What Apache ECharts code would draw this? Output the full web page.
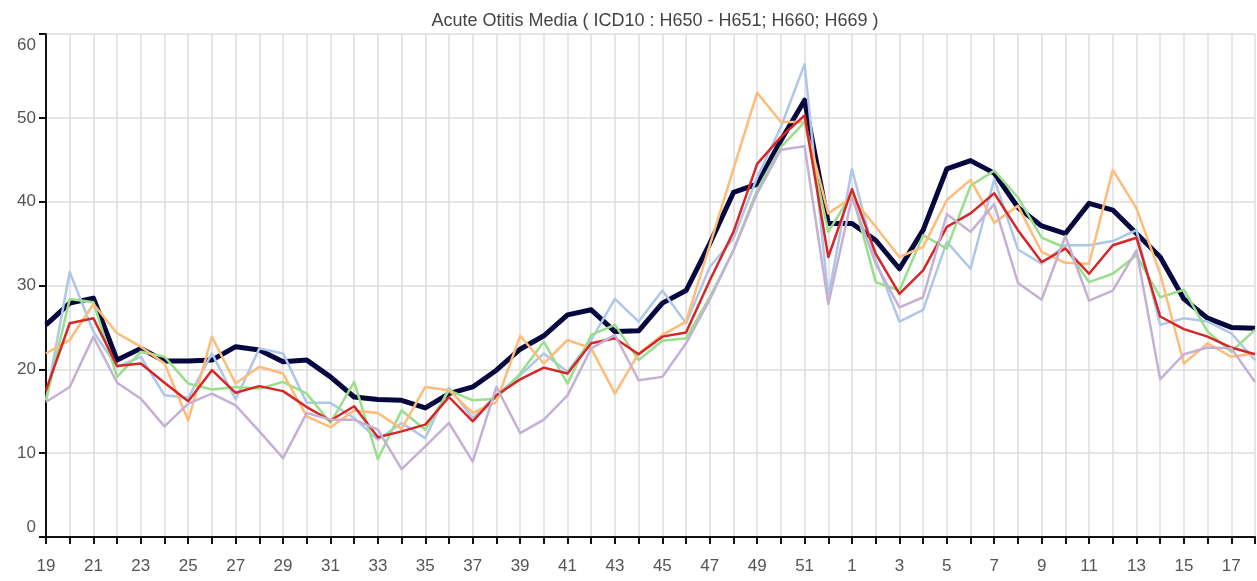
<!DOCTYPE html>
<html>
<head>
<meta charset="utf-8">
<title>Acute Otitis Media</title>
<script src="https://cdn.jsdelivr.net/npm/echarts@6/dist/echarts.min.js"></script>
<style>
  html, body { margin: 0; padding: 0; background: #fff; }
  #chart { width: 1257px; height: 581px; }
</style>
</head>
<body>
<div id="chart"></div>
<script>
// ISO weeks, week 19 of one year to week 18 of the next
var weeks = ["19","20","21","22","23","24","25","26","27","28","29","30","31","32","33","34","35","36","37","38","39","40","41","42","43","44","45","46","47","48","49","50","51","52",
	"1","2","3","4","5","6","7","8","9","10","11","12","13","14","15","16","17","18"];

var navyVals = [25.3, 27.9, 28.5, 21.1, 22.5, 21.0, 21.0, 21.1, 22.7, 22.3, 20.9, 21.1, 19.1, 16.7, 16.4, 16.3, 15.4, 17.1, 17.9, 19.9,
	22.4, 24.0, 26.5, 27.1, 24.5, 24.6, 27.9, 29.4, 35.0, 41.1, 42.1, 47.3, 52.1, 37.4,
	37.4, 35.4, 32.0, 36.6, 43.9, 44.9, 43.4, 39.3, 37.1, 36.2, 39.8, 39.0, 36.2, 33.4, 28.4, 26.1, 25.0, 24.9];
var blueVals = [16.3, 31.6, 24.5, 20.3, 21.5, 16.9, 16.6, 21.9, 16.4, 22.5, 21.9, 16.0, 16.0, 14.2, 11.6, 13.6, 11.8, 17.8, 14.2, 16.9,
	19.3, 21.9, 19.7, 23.5, 28.4, 25.7, 29.4, 25.5, 32.2, 35.6, 42.9, 48.9, 56.4, 28.6,
	43.9, 33.0, 25.7, 27.1, 35.2, 32.0, 42.7, 34.3, 32.6, 34.8, 34.8, 35.3, 36.6, 25.3, 26.1, 25.7, 24.3, 21.1];
var greenVals = [16.3, 28.4, 28.0, 19.1, 22.1, 21.5, 18.3, 17.6, 17.9, 17.7, 18.5, 17.1, 13.6, 18.5, 9.3, 15.1, 12.8, 17.5, 16.3, 16.5,
	19.5, 23.3, 18.3, 24.1, 25.3, 21.1, 23.4, 23.7, 28.6, 34.2, 41.4, 46.5, 49.5, 36.4,
	41.0, 30.4, 29.4, 36.0, 34.4, 41.9, 43.7, 40.5, 35.7, 34.5, 30.4, 31.4, 33.6, 28.6, 29.5, 24.5, 22.1, 24.7];
var orangeVals = [21.9, 23.5, 27.8, 24.3, 22.7, 20.7, 13.9, 23.9, 18.3, 20.3, 19.5, 14.4, 13.1, 15.1, 14.8, 12.9, 17.9, 17.5, 14.8, 16.1,
	24.0, 20.7, 23.5, 22.5, 17.1, 21.9, 24.1, 25.7, 34.8, 43.9, 53.0, 49.5, 49.5, 38.6,
	40.5, 37.0, 33.4, 34.6, 40.2, 42.6, 37.5, 39.5, 34.0, 32.7, 32.6, 43.8, 39.2, 31.4, 20.7, 23.1, 21.5, 21.9];
var redVals = [17.5, 25.5, 26.1, 20.4, 20.7, 18.4, 16.2, 19.9, 17.2, 18.0, 17.4, 15.5, 13.9, 15.6, 11.9, 12.6, 13.4, 16.7, 13.8, 16.9,
	18.8, 20.2, 19.5, 23.1, 23.7, 21.8, 23.9, 24.4, 30.6, 36.4, 44.5, 47.7, 50.3, 33.4,
	41.5, 33.8, 29.0, 31.8, 37.0, 38.6, 41.0, 36.6, 32.8, 34.4, 31.4, 34.8, 35.7, 26.3, 24.8, 23.9, 22.6, 21.8];
var purpleVals = [16.1, 17.9, 23.9, 18.4, 16.5, 13.2, 15.9, 17.1, 15.7, 12.6, 9.4, 14.8, 14.0, 14.0, 12.8, 8.1, 10.8, 13.6, 9.0, 17.9,
	12.4, 14.0, 16.9, 22.5, 24.1, 18.7, 19.1, 23.1, 28.3, 34.2, 41.0, 46.2, 46.6, 27.8,
	40.5, 32.6, 27.4, 28.6, 38.5, 36.4, 39.7, 30.3, 28.3, 35.9, 28.2, 29.4, 34.2, 18.8, 21.8, 22.6, 22.5, 18.5];

var myChart = echarts.init(document.getElementById("chart"), null, { renderer: "canvas" });

function lineSeries(name, data, color, width) {
	return {
		name : name,
		type : "line",
		data : data,
		symbol : "none",
		smooth : false,
		animation : false,
		lineStyle : {
			color : color,
			width : width,
			join : "round"
		}
	};
}

var option = {
	backgroundColor : "#fff",
	animation : false,
	textStyle : {
		fontFamily : "Liberation Sans, Arial, sans-serif"
	},
	title : {
		text : "Acute Otitis Media ( ICD10 : H650 - H651; H660; H669 )",
		left : 650,
		textAlign : "center",
		top : 7,
		textStyle : {
			fontSize : 18,
			fontWeight : "normal",
			color : "#444"
		}
	},
	grid : {
		left : 46,
		right : 2,
		top : 34,
		bottom : 44,
		containLabel : false,
		outerBoundsMode : "none"
	},
	xAxis : {
		type : "category",
		boundaryGap : false,
		data : weeks,
		axisLine : {
			lineStyle : { color : "#111", width : 2 }
		},
		axisTick : {
			interval : 0,
			length : 7,
			lineStyle : { color : "#111", width : 2 }
		},
		axisLabel : {
			interval : 1,
			margin : 21,
			fontSize : 17,
			color : "#555"
		},
		splitLine : {
			show : true,
			interval : 0,
			lineStyle : { color : "#dcdcdc", width : 1.5 }
		}
	},
	yAxis : {
		type : "value",
		min : 0,
		max : 60,
		interval : 10,
		axisLine : {
			show : true,
			lineStyle : { color : "#111", width : 2 }
		},
		axisTick : {
			show : true,
			length : 7,
			lineStyle : { color : "#111", width : 2 }
		},
		axisLabel : {
			margin : 10,
			fontSize : 17,
			color : "#555",
			formatter : function(v) {
				if (v === 60) return "{top|" + v + "}";
				if (v === 0) return "{bot|" + v + "}";
				return v;
			},
			rich : {
				top : { fontSize : 17, color : "#555", padding : [22, 0, 0, 0] },
				bot : { fontSize : 17, color : "#555", padding : [0, 0, 20, 0] }
			}
		},
		splitLine : {
			show : true,
			lineStyle : { color : "#dcdcdc", width : 1.5 }
		}
	},
	series : [
		lineSeries("navy", navyVals, "#07073f", 5),
		lineSeries("blue", blueVals, "#aec7e8", 2.5),
		lineSeries("green", greenVals, "#98df8a", 2.5),
		lineSeries("orange", orangeVals, "#ffbb78", 2.5),
		lineSeries("red", redVals, "#d62728", 2.5),
		lineSeries("purple", purpleVals, "#c5b0d5", 2.5)
	]
};
myChart.setOption(option);
</script>
</body>
</html>
